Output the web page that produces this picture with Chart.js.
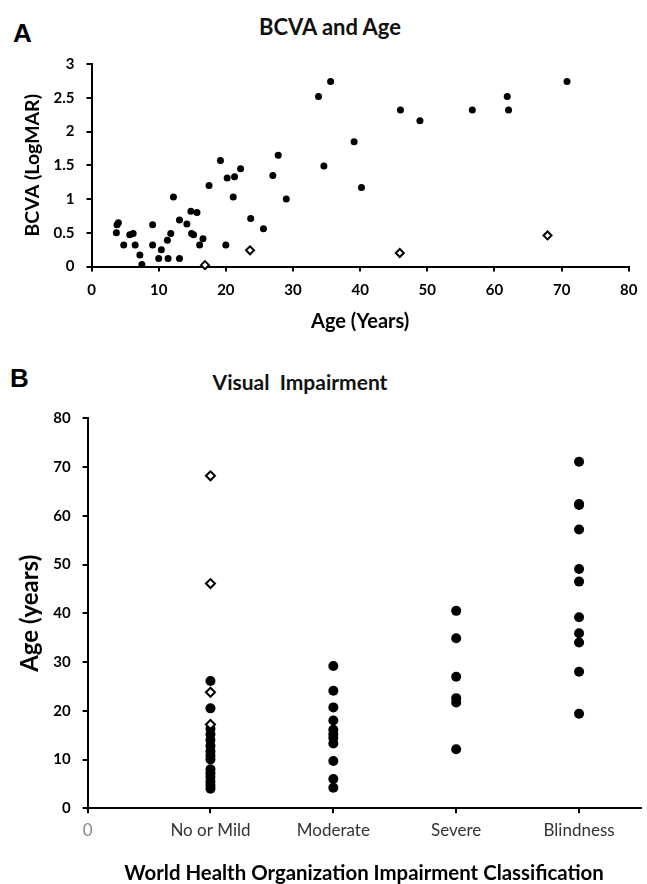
<!DOCTYPE html>
<html>
<head>
<meta charset="utf-8">
<script src="https://cdn.jsdelivr.net/npm/chart.js@4"></script>
<style>
  body { margin: 0; background: #fff; width: 647px; height: 884px; position: relative; overflow: hidden; }
  canvas { position: absolute; left: 0; }
  #chartA { top: 0; }
  #chartB { top: 340px; }
  .panel { position: absolute; font-family: "Liberation Sans", Arial, sans-serif; font-weight: bold; font-size: 26px; line-height: 26px; color: #000; }
  .title { position: absolute; font-family: Lato, sans-serif; font-weight: bold; line-height: 1; color: #111; white-space: pre; transform: translate(-50%, -50%); }
</style>
</head>
<body>
<div class="panel" style="left:13px; top:20px;">A</div>
<div class="title" style="left:330px; top:27px; font-size:22px;">BCVA and Age</div>
<div class="panel" style="left:10px; top:365px;">B</div>
<div class="title" style="left:300px; top:381px; font-size:21px;">Visual  Impairment</div>
<canvas id="chartA" width="647" height="340"></canvas>
<canvas id="chartB" width="647" height="544"></canvas>
<script>
// panel A: age vs BCVA
const ageA = [3.7, 3.8, 4.0, 4.8, 5.7, 6.2, 6.5, 7.2, 7.5, 9.1, 9.1, 10.0, 10.4, 11.3, 11.4, 11.8, 12.2, 13.1, 13.1, 14.2,
  14.8, 14.9, 15.2, 15.7, 16.1, 16.6, 17.5, 19.2, 20.0, 20.2, 21.1, 21.3, 22.2, 23.7, 25.6, 27.0, 27.8, 29.0, 33.8, 34.6,
  35.6, 39.1, 40.2, 46.0, 48.9, 56.7, 61.9, 62.1, 70.8];
const bcvaA = [0.50, 0.62, 0.65, 0.32, 0.47, 0.49, 0.32, 0.17, 0.03, 0.62, 0.32, 0.12, 0.25, 0.39, 0.12, 0.49, 1.03, 0.69, 0.12, 0.63,
  0.82, 0.49, 0.47, 0.80, 0.32, 0.41, 1.20, 1.57, 0.32, 1.31, 1.03, 1.33, 1.45, 0.71, 0.56, 1.35, 1.65, 1.00, 2.52, 1.49,
  2.74, 1.85, 1.17, 2.32, 2.16, 2.32, 2.52, 2.32, 2.74];
const ageOpenA = [16.9, 23.6, 45.9, 67.9];
const bcvaOpenA = [0.02, 0.24, 0.20, 0.46];

// panel B: age by WHO class
const classes = ['No or Mild', 'Moderate', 'Severe', 'Blindness'];
const agesNoMild = [26.1, 20.5, 16.3, 15.2, 14.0, 12.8, 11.7, 10.8, 10.0, 8.0, 7.2, 6.4, 5.5, 4.7, 4.0];
const agesModerate = [29.2, 24.1, 20.7, 18.0, 16.1, 15.2, 14.4, 13.3, 9.7, 6.0, 4.2];
const agesSevere = [40.5, 34.9, 27.0, 22.6, 21.7, 12.1];
const agesBlind = [71.1, 62.4, 62.2, 57.2, 49.1, 46.5, 39.2, 35.9, 34.0, 28.0, 19.4];
const agesOpenNoMild = [68.2, 46.1, 23.8, 17.2];

const boldTick = { family: 'Lato', size: 15, weight: 'bold' };
const gridStyle = { drawOnChartArea: false, color: '#000', lineWidth: 2, tickLength: 5 };
const borderStyle = { color: '#000', width: 2 };

function filled(points, r) {
  return { data: points, pointStyle: 'circle', pointRadius: r, pointHoverRadius: r,
    pointBackgroundColor: '#000', pointBorderWidth: 0, clip: false };
}
function open(points, r) {
  return { data: points, pointStyle: 'rectRot', pointRadius: r, pointHoverRadius: r,
    pointBackgroundColor: '#fff', pointBorderColor: '#000', pointBorderWidth: 2, clip: false };
}

new Chart(document.getElementById('chartA'), {
  type: 'scatter',
  data: {
    datasets: [
      open(ageOpenA.map((x, i) => ({ x, y: bcvaOpenA[i] })), 4),
      filled(ageA.map((x, i) => ({ x, y: bcvaA[i] })), 3.5)
    ]
  },
  options: {
    responsive: false,
    animation: false,
    events: [],
    layout: { padding: { top: 64, right: 9, left: 0, bottom: 0 } },
    plugins: { legend: { display: false }, tooltip: { enabled: false } },
    scales: {
      x: {
        type: 'linear', min: 0, max: 80,
        ticks: { stepSize: 10, padding: 9.5, color: '#000', font: boldTick, maxRotation: 0 },
        grid: gridStyle, border: borderStyle,
        title: { display: true, text: 'Age (Years)', color: '#000', font: { family: 'Lato', size: 20, weight: 'bold' }, padding: { top: 0, bottom: 6 } },
        afterFit: s => { s.height = 73.5; }
      },
      y: {
        min: 0, max: 3,
        ticks: { stepSize: 0.5, padding: 12, color: '#000', font: boldTick, callback: v => String(v) },
        grid: gridStyle, border: borderStyle,
        title: { display: true, text: 'BCVA (LogMAR)', color: '#000', font: { family: 'Lato', size: 19.5, weight: 'bold' }, padding: { top: 21, bottom: 0 } },
        afterFit: s => { s.width = 91.5; }
      }
    }
  }
});

const classPoints = (ages, k) => ages.map(y => ({ x: k, y }));

new Chart(document.getElementById('chartB'), {
  type: 'scatter',
  data: {
    datasets: [
      open(classPoints(agesOpenNoMild, 1), 4.5),
      filled(classPoints(agesNoMild, 1), 5),
      filled(classPoints(agesModerate, 2), 5),
      filled(classPoints(agesSevere, 3), 5),
      filled(classPoints(agesBlind, 4), 5)
    ]
  },
  options: {
    responsive: false,
    animation: false,
    events: [],
    layout: { padding: { top: 78.3, right: 5.4, left: 0, bottom: 0 } },
    plugins: { legend: { display: false }, tooltip: { enabled: false } },
    scales: {
      x: {
        type: 'linear', min: 0, max: 4.5,
        afterBuildTicks: s => { s.ticks = s.ticks.filter(t => Number.isInteger(t.value)); },
        ticks: {
          stepSize: 1, padding: 7, autoSkip: false, maxRotation: 0,
          callback: v => v === 0 ? '0' : classes[v - 1],
          color: c => (c.tick && c.tick.value === 0) ? '#8a8a8a' : '#333',
          font: { family: 'Lato', size: 17 }
        },
        grid: gridStyle, border: borderStyle,
        title: { display: true, text: 'World Health Organization Impairment Classification', color: '#000', font: { family: 'Lato', size: 20.4, weight: 'bold', lineHeight: 1 }, padding: { top: 0, bottom: 0 } },
        afterFit: s => { s.height = 75.7; }
      },
      y: {
        min: 0, max: 80,
        ticks: { stepSize: 10, padding: 12, color: '#000', font: boldTick },
        grid: gridStyle, border: borderStyle,
        title: { display: true, text: 'Age (years)', color: '#000', font: { family: 'Lato', size: 24, weight: 'bold' }, padding: { top: 15.6, bottom: 0 } },
        afterFit: s => { s.width = 87.6; }
      }
    }
  }
});
</script>
</body>
</html>
